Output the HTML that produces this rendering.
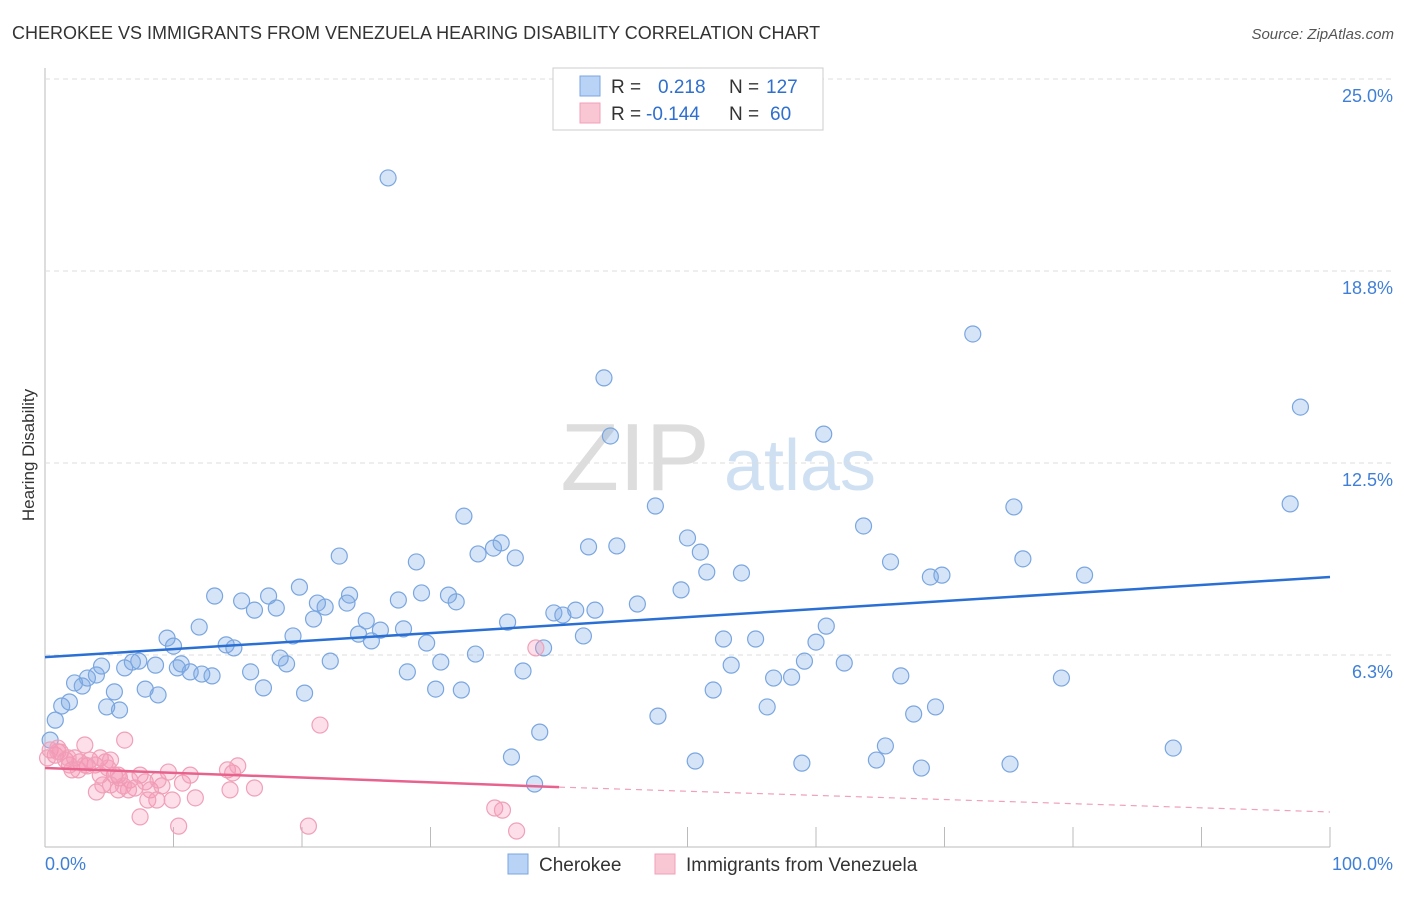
<!DOCTYPE html>
<html><head><meta charset="utf-8"><style>
body{margin:0;background:#fff;font-family:"Liberation Sans",sans-serif;}
svg text{font-family:"Liberation Sans",sans-serif;}
</style></head><body>
<svg width="1406" height="892" id="chart">
<text x="12" y="39" font-size="18" fill="#333">CHEROKEE VS IMMIGRANTS FROM VENEZUELA HEARING DISABILITY CORRELATION CHART</text>
<text x="1394" y="39" font-size="15" fill="#555" font-style="italic" text-anchor="end">Source: ZipAtlas.com</text>
<text transform="translate(34,455) rotate(-90)" font-size="17" fill="#333" text-anchor="middle">Hearing Disability</text>
<g><text x="635" y="490" font-size="96" fill="#ddd" font-family="Liberation Serif" text-anchor="middle">ZIP</text><text x="800" y="490" font-size="72" fill="#cfe0f3" text-anchor="middle">atlas</text></g>
<g id="grid"></g><g id="marks"></g>
<g>
<rect x="553" y="68" width="270" height="62" fill="#fff" stroke="#ccc"/>
<rect x="580" y="76" width="20" height="20" fill="#b8d3f5" stroke="#7aa6e0"/>
<rect x="580" y="103" width="20" height="20" fill="#f9c6d4" stroke="#f0a0b8"/>
<text x="611" y="93" font-size="19" fill="#333">R =</text><text x="658" y="93" font-size="19" fill="#2f6fce">0.218</text>
<text x="729" y="93" font-size="19" fill="#333">N =</text><text x="766" y="93" font-size="19" fill="#2f6fce">127</text>
<text x="611" y="120" font-size="19" fill="#333">R =</text><text x="646" y="120" font-size="19" fill="#2f6fce">-0.144</text>
<text x="729" y="120" font-size="19" fill="#333">N =</text><text x="770" y="120" font-size="19" fill="#2f6fce">60</text>
</g>
<g>
<rect x="508" y="854" width="20" height="20" fill="#b8d3f5" stroke="#7aa6e0"/>
<text x="539" y="871" font-size="19" fill="#333">Cherokee</text>
<rect x="655" y="854" width="20" height="20" fill="#f9c6d4" stroke="#f0a0b8"/>
<text x="686" y="871" font-size="19" fill="#333">Immigrants from Venezuela</text>
</g>
</svg>
<script>
const yTicks=[6.25,12.5,18.75,25];
const yTickLabels=["6.3%","12.5%","18.8%","25.0%"];
const xTickLabels=["0.0%","100.0%"];
const blueX=[26.7,72.2,43.5,97.7,44.0,60.6,47.5,96.9,32.6,63.7,75.4,22.9,33.7,34.9,35.5,36.6,28.9,42.3,44.5,50.0,51.0,65.8,76.1,51.5,54.2,68.9,69.8,80.9,19.8,13.2,15.3,17.4,16.3,18.0,21.2,21.8,23.7,23.5,27.5,29.3,31.4,32.0,49.5,46.1,39.6,40.3,41.3,42.8,12.0,9.5,10.0,14.1,14.7,19.3,20.9,25.0,24.4,25.4,26.1,27.9,29.7,36.0,41.9,52.8,55.3,60.0,60.8,4.4,6.2,6.8,7.3,8.6,10.6,10.3,11.3,12.2,13.0,16.0,18.3,18.8,22.2,30.8,33.5,38.8,37.2,53.4,59.1,62.2,2.3,2.9,3.3,4.0,5.4,7.8,8.8,17.0,20.2,28.2,30.4,32.4,52.0,56.7,58.1,66.6,79.1,0.8,1.3,1.9,4.8,5.8,47.7,56.2,67.6,69.3,38.5,65.4,87.8,36.3,50.6,58.9,64.7,68.2,75.1,38.1,0.4];
const blueY=[21.78,16.70,15.27,14.32,13.38,13.44,11.10,11.17,10.77,10.45,11.07,9.47,9.54,9.73,9.90,9.41,9.28,9.77,9.80,10.06,9.60,9.28,9.38,8.95,8.92,8.79,8.85,8.85,8.46,8.17,8.01,8.17,7.71,7.78,7.94,7.81,8.20,7.94,8.04,8.27,8.20,7.98,8.37,7.91,7.62,7.55,7.71,7.71,7.16,6.80,6.54,6.58,6.48,6.87,7.42,7.36,6.93,6.71,7.06,7.10,6.64,7.32,6.87,6.77,6.77,6.67,7.19,5.89,5.83,6.02,6.05,5.92,5.96,5.83,5.70,5.63,5.57,5.70,6.15,5.96,6.05,6.02,6.28,6.48,5.73,5.92,6.05,5.99,5.34,5.24,5.50,5.60,5.05,5.14,4.95,5.18,5.01,5.70,5.14,5.11,5.11,5.50,5.53,5.57,5.50,4.13,4.59,4.72,4.56,4.46,4.26,4.56,4.33,4.56,3.74,3.29,3.22,2.93,2.80,2.73,2.83,2.57,2.70,2.05,3.48];
const pinkX=[0.4,0.8,1.2,0.2,1.6,1.9,2.3,2.7,3.1,3.5,3.9,4.3,4.7,5.1,5.4,5.8,6.2,6.6,4.0,4.5,5.7,7.0,7.4,7.8,8.2,8.7,9.1,9.6,9.9,10.4,10.7,11.3,11.7,7.4,5.7,6.5,14.4,14.2,14.6,15.0,16.3,21.4,20.5,35.0,35.6,36.7,38.2,2.1,1.0,3.3,4.3,5.1,1.0,1.8,2.6,4.9,6.1,8.0,8.8,3.1];
const pinkY=[3.16,2.99,3.09,2.90,2.83,2.67,2.90,2.77,3.32,2.83,2.67,2.90,2.77,2.83,2.34,2.25,3.48,2.18,1.79,2.02,1.86,1.92,2.34,2.12,1.86,1.53,1.99,2.44,1.53,0.68,2.08,2.34,1.60,0.98,2.34,1.86,1.86,2.51,2.41,2.64,1.92,3.97,0.68,1.27,1.20,0.52,6.48,2.51,3.1,2.64,2.34,2.02,3.22,2.90,2.51,2.57,1.99,1.53,2.18,2.67];
const blueTrend=[6.18,8.79];
const pinkTrend=[2.57,1.95,1.14];
const X=v=>45+v*12.85, Y=v=>847-v*30.72;
const NS="http://www.w3.org/2000/svg";
const grid=document.getElementById('grid'), marks=document.getElementById('marks');
function mk(tag,attrs,parent){const e=document.createElementNS(NS,tag);for(const k in attrs)e.setAttribute(k,attrs[k]);parent.appendChild(e);return e;}
mk('line',{x1:45,y1:68,x2:45,y2:847,stroke:'#bbb'},grid);
mk('line',{x1:45,y1:847,x2:1330,y2:847,stroke:'#bbb'},grid);
yTicks.forEach((t,i)=>{
 const l=mk('line',{x1:45,x2:1393,y1:Y(t),y2:Y(t),stroke:'#ddd','stroke-dasharray':'5,4'},grid);
 
 
 const tx=mk('text',{x:1393,y:Y(t)+23,'font-size':18,fill:'#3f7fd6','text-anchor':'end'},grid);
 tx.textContent=yTickLabels[i];
 
 
});
for(let i=0;i<=10;i++){const l=mk('line',{x1:X(i*10),x2:X(i*10),y1:827,y2:847,stroke:'#bbb'},grid);
 
 }
[[0,'start',45],[1,'end',1393]].forEach(([i,a,x])=>{const t=mk('text',{x:x,y:870,'font-size':18,fill:'#3f7fd6','text-anchor':a},grid);t.textContent=xTickLabels[i];
 
 });
blueX.forEach((v,i)=>{const c=mk('circle',{cx:X(v),cy:Y(blueY[i]),r:8,fill:'rgba(120,165,230,0.3)',stroke:'#7aa6e0','stroke-width':1.2},marks);
 
 });
pinkX.forEach((v,i)=>{const c=mk('circle',{cx:X(v),cy:Y(pinkY[i]),r:8,fill:'rgba(245,150,180,0.3)',stroke:'#f0a0b8','stroke-width':1.2},marks);
 
 });
const bl=mk('line',{x1:X(0),y1:Y(blueTrend[0]),x2:X(100),y2:Y(blueTrend[1]),stroke:'#2a6fd4','stroke-width':2.5},marks);


const pl=mk('line',{x1:X(0),y1:Y(pinkTrend[0]),x2:X(40),y2:Y(pinkTrend[1]),stroke:'#e8628e','stroke-width':2.5},marks);


const pd=mk('line',{x1:X(40),y1:Y(pinkTrend[1]),x2:X(100),y2:Y(pinkTrend[2]),stroke:'#f0a0b8','stroke-width':1.2,'stroke-dasharray':'6,5'},marks);


</script>
</body></html>
